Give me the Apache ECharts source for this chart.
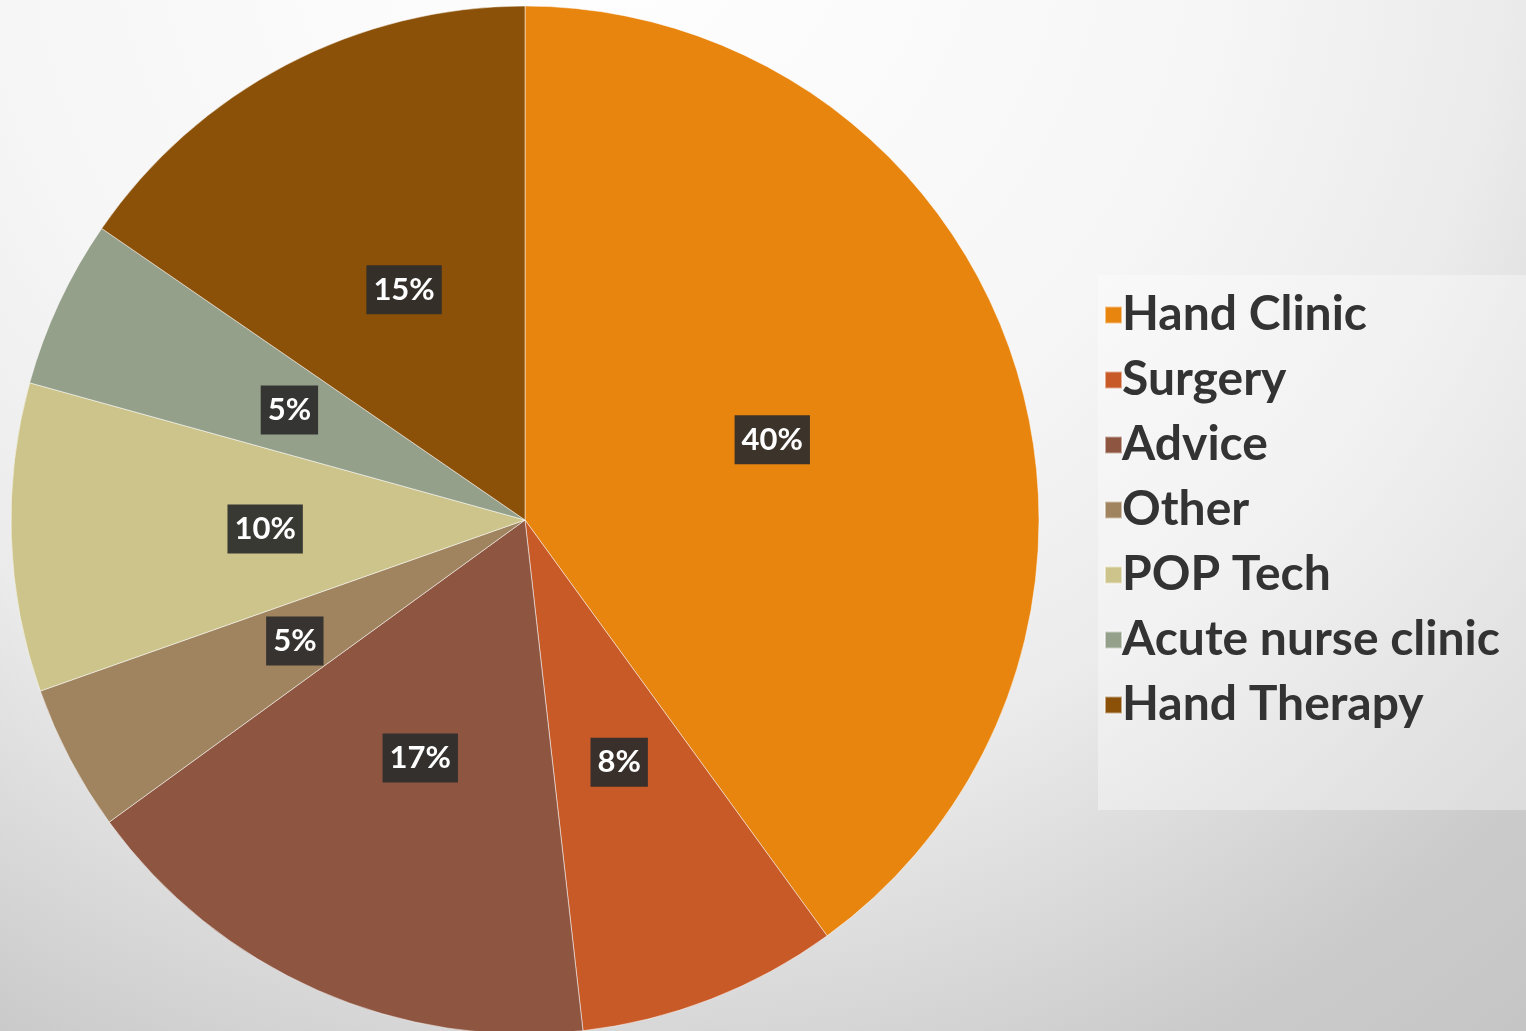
<!DOCTYPE html>
<html>
<head>
<meta charset="utf-8">
<style>html,body{margin:0;padding:0;}#c{width:1526px;height:1031px;}</style>
<script src="https://cdn.jsdelivr.net/npm/echarts@6/dist/echarts.min.js"></script>
</head>
<body>
<div id="c"></div>
<script>
const categories = ['Hand Clinic','Surgery','Advice','Other','POP Tech','Acute nurse clinic','Hand Therapy'];
const values = [40, 8.2, 16.8, 4.6, 9.7, 5.3, 15.4];
const colors = ['#E8850F','#C85A27','#8E5641','#A0845F','#CCC48A','#95A08A','#8B5109'];

const chart = echarts.init(document.getElementById('c'));
chart.setOption({
  backgroundColor: {
    type: 'radial', x: 610, y: -100, r: 1460, global: true,
    colorStops: [
      {offset: 0, color: '#ffffff'},
      {offset: 0.42, color: '#f6f6f6'},
      {offset: 0.62, color: '#ebebeb'},
      {offset: 0.87, color: '#cbcbcb'},
      {offset: 1, color: '#c5c5c5'}
    ]
  },
  graphic: [{
    type: 'rect', left: 1098, top: 275, z: -1,
    shape: {width: 440, height: 535},
    style: {fill: 'rgba(255,255,255,0.35)'}
  }],
  legend: {
    orient: 'vertical', left: 1099, top: 280,
    icon: 'rect', itemWidth: 17, itemHeight: 17, itemGap: 5,
    data: categories,
    textStyle: {fontFamily: 'Lato', fontWeight: 'bold', fontSize: 48, color: '#333333', lineHeight: 60, padding: [0,0,0,-5]}
  },
  series: [{
    type: 'pie',
    center: [525, 520], radius: [0, 514],
    startAngle: 90, clockwise: true,
    data: categories.map((n, i) => ({name: n, value: values[i], itemStyle: {color: colors[i]}})),
    itemStyle: {borderColor: 'rgba(255,255,255,0.5)', borderWidth: 1},
    label: {
      position: 'inside', formatter: p => Math.round(p.percent) + '%',
      fontFamily: 'Lato', fontWeight: 'bold', fontSize: 31, color: '#ffffff',
      backgroundColor: 'rgba(45,45,45,0.92)', padding: [9, 7]
    },
    labelLine: {show: false},
    emphasis: {disabled: true},
    animation: false
  }]
});
</script>
</body>
</html>
